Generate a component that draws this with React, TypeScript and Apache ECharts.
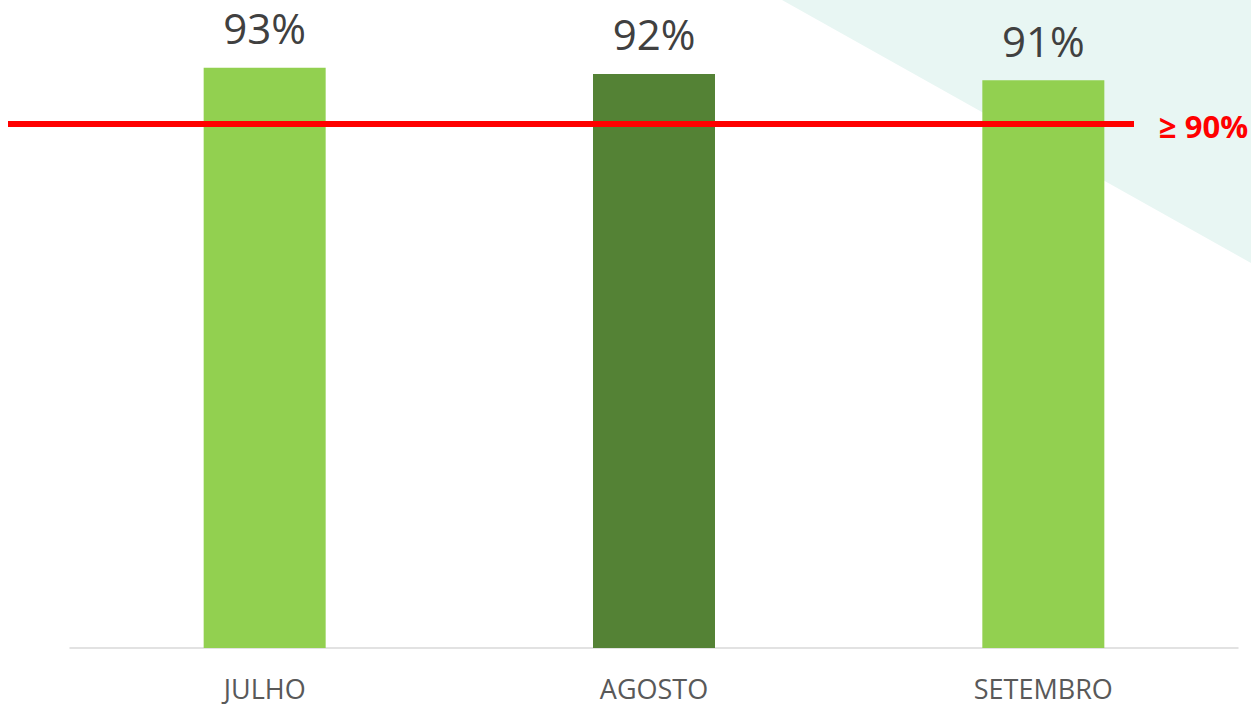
import React, { useEffect, useRef } from "react";
import * as echarts from "echarts";

const categories = ["JULHO", "AGOSTO", "SETEMBRO"];
const values = [93, 92, 91];
const barColors = ["#92D050", "#548235", "#92D050"];
const targetLabel = "≥ 90%";

export default function App() {
  const ref = useRef<HTMLDivElement>(null);
  useEffect(() => {
    if (!ref.current) return;
    const chart = echarts.init(ref.current, null, { renderer: "svg" });
    chart.setOption({
      animation: false,
      backgroundColor: "#ffffff",
      grid: { left: 70, right: 13, top: 24, bottom: 59, containLabel: false },
      xAxis: {
        type: "category",
        data: categories,
        axisLine: { show: true, lineStyle: { color: "#D9D9D9", width: 1.5 } },
        axisTick: { show: false },
        axisLabel: {
          color: "#595959",
          fontFamily: "Open Sans",
          fontSize: 27,
          margin: 27,
        },
      },
      yAxis: {
        type: "value",
        min: 0,
        max: 100,
        show: false,
        splitLine: { show: false },
      },
      graphic: [
        {
          type: "polygon",
          z: -10,
          silent: true,
          shape: { points: [[782, 0], [1251, 0], [1251, 263]] },
          style: { fill: "#E8F6F3" },
        },
        {
          type: "line",
          z: 100,
          silent: true,
          shape: { x1: 8, y1: 124, x2: 1134, y2: 124 },
          style: { stroke: "#FF0000", lineWidth: 6 },
        },
        {
          type: "text",
          z: 100,
          silent: true,
          x: 1159,
          y: 126,
          style: {
            text: targetLabel,
            fill: "#FF0000",
            font: "bold 31px 'Open Sans'",
            textVerticalAlign: "middle",
            verticalAlign: "middle",
          },
        },
      ],
      series: [
        {
          type: "bar",
          barWidth: 122,
          data: values.map((v, i) => ({ value: v, itemStyle: { color: barColors[i] } })),
          label: {
            show: true,
            position: "top",
            distance: 19,
            formatter: "{c}%",
            color: "#404040",
            fontFamily: "Open Sans",
            fontSize: 42,
          },
        },
      ],
    });
    return () => chart.dispose();
  }, []);
  return (
    <div
      ref={ref}
      style={{ position: "fixed", left: 0, top: 0, width: 1251, height: 707 }}
    />
  );
}
